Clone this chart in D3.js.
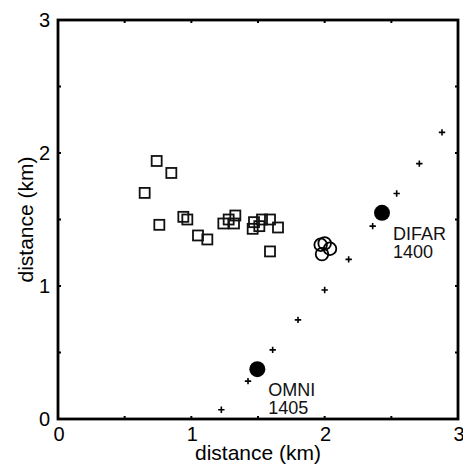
<!DOCTYPE html>
<html>
<head>
<meta charset="utf-8">
<script src="https://cdn.jsdelivr.net/npm/d3@7"></script>
<style>
  body { margin: 0; background: #fff; }
  svg { display: block; font-family: "Liberation Sans", Arial, sans-serif; }
</style>
</head>
<body>
<div id="chart"></div>
<script>
// Data (km)
const squares = [
  [0.74, 1.94], [0.85, 1.85], [0.65, 1.70], [0.76, 1.46],
  [0.94, 1.52], [0.97, 1.50], [1.05, 1.38], [1.12, 1.35],
  [1.24, 1.47], [1.28, 1.50], [1.33, 1.53], [1.32, 1.47],
  [1.46, 1.43], [1.47, 1.48], [1.51, 1.45], [1.53, 1.50],
  [1.59, 1.50], [1.65, 1.44], [1.59, 1.26]
];
const circles = [[1.97, 1.31], [2.00, 1.32], [2.04, 1.28], [1.98, 1.24]];
const track = [
  [1.225, 0.07], [1.425, 0.285], [1.61, 0.52], [1.80, 0.745], [2.00, 0.97],
  [2.18, 1.20], [2.36, 1.45], [2.54, 1.695], [2.71, 1.92], [2.88, 2.155]
];
const buoys = [
  { name: "DIFAR", time: "1400", x: 2.43, y: 1.55 },
  { name: "OMNI", time: "1405", x: 1.495, y: 0.375 }
];
const tickVals = [0, 0.5, 1, 1.5, 2, 2.5, 3];
const tickLabels = [0, 1, 2, 3];
const axisLabel = "distance (km)";

// chart frame
const W = 463, H = 464;
const m = { left: 58, right: 5, top: 20, bottom: 45 };
const iw = W - m.left - m.right;
const ih = H - m.top - m.bottom;

const svg = d3.select("#chart").append("svg")
  .attr("width", W)
  .attr("height", H);

const x = d3.scaleLinear().domain([0, 3]).range([m.left, m.left + iw]);
const y = d3.scaleLinear().domain([0, 3]).range([m.top + ih, m.top]);

// inward ticks on all four sides
const tickLen = 3;
const g = svg.append("g").attr("stroke", "#000").attr("stroke-width", 2);
tickVals.forEach(v => {
  g.append("line").attr("x1", x(v)).attr("x2", x(v)).attr("y1", y(0)).attr("y2", y(0) - tickLen);
  g.append("line").attr("x1", x(v)).attr("x2", x(v)).attr("y1", y(3)).attr("y2", y(3) + tickLen);
  g.append("line").attr("y1", y(v)).attr("y2", y(v)).attr("x1", x(0)).attr("x2", x(0) + tickLen);
  g.append("line").attr("y1", y(v)).attr("y2", y(v)).attr("x1", x(3)).attr("x2", x(3) - tickLen);
});

svg.append("rect")
  .attr("x", x(0)).attr("y", y(3))
  .attr("width", x(3) - x(0)).attr("height", y(0) - y(3))
  .attr("fill", "none").attr("stroke", "#000").attr("stroke-width", 2.8);

// tick labels
svg.selectAll(".xt").data(tickLabels).enter().append("text")
  .attr("x", d => x(d) + 1)
  .attr("y", y(0) + 22)
  .attr("text-anchor", "middle")
  .attr("font-size", 20)
  .text(d => d);

svg.selectAll(".yt").data(tickLabels).enter().append("text")
  .attr("x", x(0) - 8)
  .attr("y", d => y(d) + 7)
  .attr("text-anchor", "end")
  .attr("font-size", 20)
  .text(d => d);

// axis labels
svg.append("text")
  .attr("x", (x(0) + x(3)) / 2)
  .attr("y", 460)
  .attr("text-anchor", "middle")
  .attr("font-size", 21)
  .text(axisLabel);

svg.append("text")
  .attr("transform", `translate(33, ${(y(0) + y(3)) / 2}) rotate(-90)`)
  .attr("text-anchor", "middle")
  .attr("font-size", 21)
  .text(axisLabel);

// squares
const s = 10;
svg.selectAll(".sq").data(squares).enter().append("rect")
  .attr("x", d => x(d[0]) - s / 2)
  .attr("y", d => y(d[1]) - s / 2)
  .attr("width", s).attr("height", s)
  .attr("fill", "none").attr("stroke", "#111").attr("stroke-width", 1.8);

// open circles
svg.selectAll(".oc").data(circles).enter().append("circle")
  .attr("cx", d => x(d[0])).attr("cy", d => y(d[1]))
  .attr("r", 6.3)
  .attr("fill", "none").attr("stroke", "#000").attr("stroke-width", 1.8);

// track pluses
const p = 3.2;
svg.selectAll(".pl").data(track).enter().append("path")
  .attr("d", d => `M${x(d[0]) - p},${y(d[1])}h${2 * p}M${x(d[0])},${y(d[1]) - p}v${2 * p}`)
  .attr("stroke", "#000").attr("stroke-width", 1.6);

// buoys
svg.selectAll(".bu").data(buoys).enter().append("circle")
  .attr("cx", d => x(d.x)).attr("cy", d => y(d.y))
  .attr("r", 8)
  .attr("fill", "#000");

const lab = svg.selectAll(".bl").data(buoys).enter().append("text")
  .attr("font-size", 18)
  .attr("fill", "#111");
lab.append("tspan")
  .attr("x", d => x(d.x) + 11)
  .attr("y", d => y(d.y) + 27)
  .text(d => d.name);
lab.append("tspan")
  .attr("x", d => x(d.x) + 11)
  .attr("dy", 18)
  .text(d => d.time);
</script>
</body>
</html>
